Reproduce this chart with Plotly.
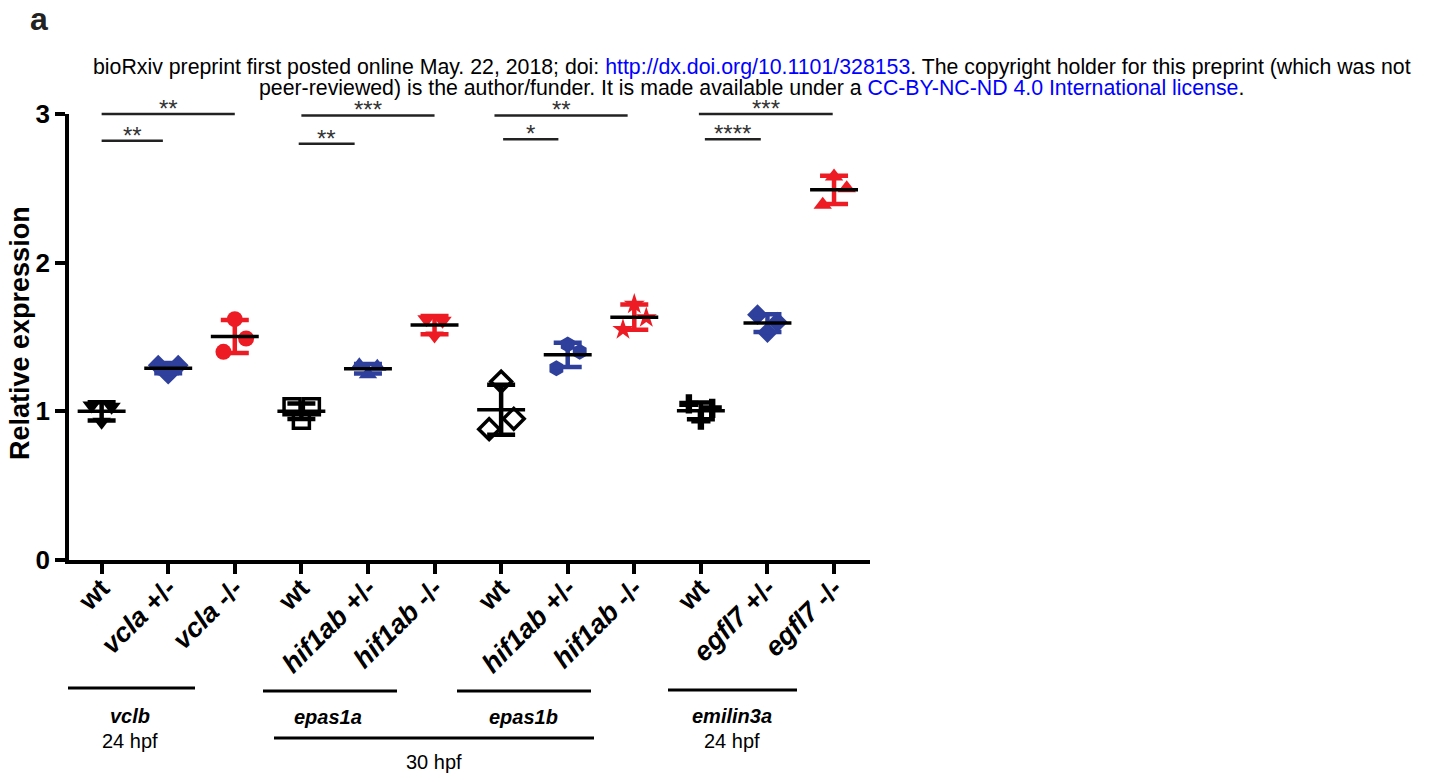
import numpy as np
import plotly.graph_objects as go

# ---------------- data ----------------
categories = ["wt", "vcla +/-", "vcla -/-",
              "wt", "hif1ab +/-", "hif1ab -/-",
              "wt", "hif1ab +/-", "hif1ab -/-",
              "wt", "egfl7 +/-", "egfl7 -/-"]
tick_labels = ["<b>wt</b>", "<b><i>vcla</i> +/-</b>", "<b><i>vcla</i> -/-</b>",
               "<b>wt</b>", "<b><i>hif1ab</i> +/-</b>", "<b><i>hif1ab</i> -/-</b>",
               "<b>wt</b>", "<b><i>hif1ab</i> +/-</b>", "<b><i>hif1ab</i> -/-</b>",
               "<b>wt</b>", "<b><i>egfl7</i> +/-</b>", "<b><i>egfl7</i> -/-</b>"]

vclb_wt = [1.04, 1.03, 0.93]
vcla_het = [1.31, 1.31, 1.25]
vcla_mut = [1.62, 1.49, 1.40]
epas1a_wt = [1.03, 1.03, 0.94]
epas1a_het = [1.31, 1.30, 1.25]
epas1a_mut = [1.62, 1.61, 1.51]
epas1b_wt = [1.20, 0.95, 0.88]
epas1b_het = [1.45, 1.40, 1.29]
epas1b_mut = [1.72, 1.63, 1.55]
emilin3a_wt = [1.05, 1.02, 0.94]
egfl7_het = [1.65, 1.60, 1.53]
egfl7_mut = [2.58, 2.50, 2.39]
series = [vclb_wt, vcla_het, vcla_mut, epas1a_wt, epas1a_het, epas1a_mut,
          epas1b_wt, epas1b_het, epas1b_mut, emilin3a_wt, egfl7_het, egfl7_mut]

# significance brackets
sig_x0 = [0, 0, 3, 2.96, 5.9, 6.03, 8.97, 9.06]
sig_x1 = [2, 0.92, 5, 3.8, 7.9, 6.86, 10.98, 9.9]
sig_y = [3.0, 2.82, 2.99, 2.80, 2.99, 2.83, 3.0, 2.83]
sig_labels = ["**", "**", "***", "**", "**", "*", "***", "****"]

# ---------------- style ----------------
BLACK, BLUE, RED = "#000000", "#2e3f9c", "#ed1c24"
colors = [BLACK, BLUE, RED] * 4
symbols = ["triangle-down", "diamond", "circle",
           "square-open", "triangle-up", "triangle-down",
           "diamond-open", "hexagon", "star",
           "cross", "diamond", "triangle-up"]
jitter = [[-0.15, 0.15, 0], [-0.15, 0.15, 0], [0, 0.17, -0.17],
          [-0.14, 0.15, 0], [-0.13, 0.14, 0], [-0.12, 0.12, 0],
          [0, 0.19, -0.18], [0, 0.18, -0.17], [0, 0.18, -0.17],
          [-0.18, 0.17, 0], [-0.15, 0.15, 0], [0, 0.19, -0.17]]
FONT = "Arial, Liberation Sans, sans-serif"

W, H = 1435, 778
L, R, T, B = 69, 870, 114, 560


def px(x):
    return (x - L) / (R - L)


def py(y):
    return (B - y) / (B - T)


fig = go.Figure()

for i, vals in enumerate(series):
    xs = [i + j for j in jitter[i]]
    open_m = symbols[i].endswith("open")
    fig.add_trace(go.Scatter(
        x=xs, y=vals, mode="markers",
        marker=dict(symbol=symbols[i], size=16, color=colors[i],
                    line=dict(width=3.5 if open_m else 0, color=colors[i])),
        showlegend=False, hoverinfo="skip"))

for i, vals in enumerate(series):
    m = float(np.mean(vals))
    sd = float(np.std(vals, ddof=1))
    fig.add_trace(go.Scatter(
        x=[i], y=[m], mode="markers",
        marker=dict(size=1, color="rgba(0,0,0,0)"),
        error_y=dict(type="data", array=[sd], visible=True,
                     color=colors[i], thickness=4.5, width=14),
        showlegend=False, hoverinfo="skip"))
    fig.add_trace(go.Scatter(
        x=[i - 0.36, i + 0.36], y=[m, m], mode="lines",
        line=dict(color=BLACK, width=3.5),
        showlegend=False, hoverinfo="skip"))

shapes = []
annotations = []
for x0, x1, y, lab in zip(sig_x0, sig_x1, sig_y, sig_labels):
    shapes.append(dict(type="line", xref="x", yref="paper", x0=x0, x1=x1,
                       y0=y / 3.0, y1=y / 3.0,
                       line=dict(color="#222222", width=2.5)))
    annotations.append(dict(xref="x", yref="paper", x=(x0 + x1) / 2, y=y / 3.0,
                            text=lab, showarrow=False, yanchor="bottom",
                            yshift=-10,
                            font=dict(family=FONT, size=24, color="#333333")))

# bottom group brackets (pixel layout)
bottom_lines = [(68, 195, 688), (263, 397, 691), (457, 591, 691),
                (668, 797, 690), (274, 594, 738)]
for x0, x1, y in bottom_lines:
    shapes.append(dict(type="line", xref="paper", yref="paper",
                       x0=px(x0), x1=px(x1), y0=py(y), y1=py(y),
                       line=dict(color=BLACK, width=3)))

bottom_texts = [("<b><i>vclb</i></b>", 130, 716), ("24 hpf", 130, 741),
                ("<b><i>epas1a</i></b>", 328, 717), ("<b><i>epas1b</i></b>", 523, 717),
                ("<b><i>emilin3a</i></b>", 732, 716), ("24 hpf", 732, 741),
                ("30 hpf", 434, 762)]
for t, x, y in bottom_texts:
    annotations.append(dict(xref="paper", yref="paper", x=px(x), y=py(y),
                            text=t, showarrow=False, xanchor="center",
                            yanchor="middle",
                            font=dict(family=FONT, size=20, color=BLACK)))

# header text
LINK = "#0000ff"
annotations.append(dict(
    xref="paper", yref="paper", x=px(752), y=py(67), xanchor="center", yanchor="middle",
    showarrow=False,
    text=("bioRxiv preprint first posted online May. 22, 2018; doi: "
          f"<span style='color:{LINK}'>http://dx.doi.org/10.1101/328153</span>. "
          "The copyright holder for this preprint (which was not"),
    font=dict(family=FONT, size=21.3, color=BLACK)))
annotations.append(dict(
    xref="paper", yref="paper", x=px(751), y=py(88), xanchor="center", yanchor="middle",
    showarrow=False,
    text=("peer-reviewed) is the author/funder. It is made available under a "
          f"<span style='color:{LINK}'>CC-BY-NC-ND 4.0 International license</span>."),
    font=dict(family=FONT, size=21.3, color=BLACK)))

annotations.append(dict(xref="paper", yref="paper", x=px(39), y=py(19),
                        text="<b>a</b>", showarrow=False, xanchor="center",
                        yanchor="middle",
                        font=dict(family=FONT, size=32, color="#222222")))

annotations.append(dict(xref="paper", yref="paper", x=px(20), y=py(333),
                        text="<b>Relative expression</b>", showarrow=False,
                        textangle=-90, xanchor="center", yanchor="middle",
                        font=dict(family=FONT, size=27, color=BLACK)))

fig.update_layout(
    width=W, height=H,
    margin=dict(l=L, r=W - R, t=T, b=H - B, pad=0),
    paper_bgcolor="white", plot_bgcolor="white",
    shapes=shapes, annotations=annotations,
    xaxis=dict(range=[-0.49, 11.54], tickmode="array",
               tickvals=list(range(len(categories))), ticktext=tick_labels,
               tickangle=-45, showline=True, linecolor=BLACK, linewidth=3.5,
               ticks="outside", ticklen=10, tickwidth=3.5, tickcolor=BLACK,
               ticklabelstandoff=-12,
               showgrid=False, zeroline=False,
               tickfont=dict(family=FONT, size=27, color=BLACK)),
    yaxis=dict(range=[0, 3], tickvals=[0, 1, 2, 3],
               ticktext=["<b>0</b>", "<b>1</b>", "<b>2</b>", "<b>3</b>"],
               showline=True, linecolor=BLACK, linewidth=3.5,
               ticks="outside", ticklen=10, tickwidth=3.5, tickcolor=BLACK,
               showgrid=False, zeroline=False,
               tickfont=dict(family=FONT, size=26, color=BLACK)),
)

fig.write_html("out.html")
